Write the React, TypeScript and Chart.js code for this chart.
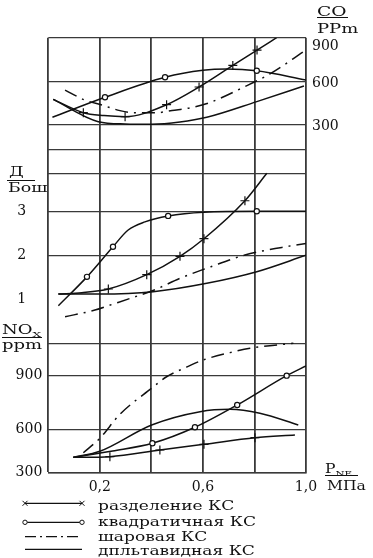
import React, { useEffect, useRef } from 'react';
import { Chart, registerables, LinearScale } from 'chart.js';

Chart.register(...registerables);

const FONT = "'DejaVu Serif', 'Liberation Serif', serif";
const INK = '#111';
const GRID = '#3a3a3a';

// X axis: P_NE, MPa
const X_GRID = [0, 0.2, 0.4, 0.6, 0.8, 1.0];
const X_LABELED = [0.2, 0.6, 1.0];

// Y axes (three stacked panels sharing one grid)
const CO_TICKS = [300, 600, 900];
const D_TICKS = [1, 2, 3];
const D_GRID = [0, 2, 3, 3.86, 4.41];
const NOX_TICKS = [300, 600, 900];

// The NOx axis of the source figure is not uniform: value -> fraction of plot height
const NOX_AXIS_VALUES = [300, 600, 900, 2775];
const NOX_AXIS_FRACTIONS = [0, 0.0998, 0.2239, 1];

// ---- CO, ppm ----
const CO_SEP_X = [0.019, 0.136, 0.216, 0.298, 0.459, 0.585, 0.716, 0.81, 0.886];
const CO_SEP_Y = [475, 383, 363, 355, 438, 560, 709, 815, 900];
const CO_SEP_MARKS = [1, 3, 4, 5, 6, 7];

const CO_QUAD_X = [0.016, 0.22, 0.453, 0.6, 0.692, 0.809, 1.0];
const CO_QUAD_Y = [351, 489, 627, 675, 684, 672, 608];
const CO_QUAD_MARKS = [1, 2, 5];

const CO_BALL_X = [0.065, 0.142, 0.208, 0.278, 0.329, 0.421, 0.48, 0.556, 0.627, 0.756, 0.86, 0.99];
const CO_BALL_Y = [539, 470, 436, 397, 383, 383, 398, 418, 453, 557, 650, 803];

const CO_DELTA_X = [0.019, 0.194, 0.298, 0.401, 0.511, 0.615, 0.809, 0.992];
const CO_DELTA_Y = [475, 321, 305, 303, 318, 351, 459, 567];

// ---- Д, Bosch units ----
const D_SEP_X = [0.039, 0.13, 0.233, 0.382, 0.511, 0.604, 0.763, 0.848];
const D_SEP_Y = [1.12, 1.15, 1.234, 1.56, 1.977, 2.377, 3.24, 3.864];
const D_SEP_MARKS = [2, 3, 4, 5, 6];

const D_QUAD_X = [0.039, 0.15, 0.251, 0.31, 0.375, 0.465, 0.604, 0.809, 1.0];
const D_QUAD_Y = [0.855, 1.51, 2.195, 2.575, 2.76, 2.895, 2.98, 3.0, 3.0];
const D_QUAD_MARKS = [1, 2, 5, 7];

const D_BALL_X = [0.065, 0.181, 0.252, 0.317, 0.414, 0.511, 0.631, 0.763, 0.906, 1.0];
const D_BALL_Y = [0.605, 0.755, 0.893, 1.02, 1.218, 1.477, 1.741, 2.007, 2.18, 2.27];

const D_DELTA_X = [0.039, 0.2, 0.407, 0.615, 0.809, 1.0];
const D_DELTA_Y = [1.12, 1.12, 1.173, 1.364, 1.627, 2.0];

// ---- NOx, ppm ----
const NOX_SEP_X = [0.097, 0.239, 0.433, 0.604, 0.802, 0.957];
const NOX_SEP_Y = [406, 411, 457, 496, 542, 561];
const NOX_SEP_MARKS = [1, 2, 3, 4];

const NOX_QUAD_X = [0.097, 0.25, 0.404, 0.569, 0.733, 0.925, 1.0];
const NOX_QUAD_Y = [406, 450, 503, 611, 735, 898, 952];
const NOX_QUAD_MARKS = [2, 3, 4, 5];

const NOX_BALL_X = [0.136, 0.2, 0.279, 0.401, 0.459, 0.53, 0.601, 0.705, 0.783, 0.951];
const NOX_BALL_Y = [438, 538, 685, 828, 892, 941, 985, 1026, 1050, 1078];

const NOX_DELTA_X = [0.097, 0.2, 0.401, 0.589, 0.705, 0.821, 0.97];
const NOX_DELTA_Y = [406, 448, 624, 698, 711, 689, 624];

const LEGEND_SEP = 'разделение КС';
const LEGEND_QUAD = 'квадратичная КС';
const LEGEND_BALL = 'шаровая КС';
const LEGEND_DELTA = 'дпльтавидная КС';

class PiecewiseScale extends LinearScale {
  static id = 'piecewise';
  getPixelForValue(value: number) {
    if (value === null || value === undefined || isNaN(value)) return NaN;
    const vs = NOX_AXIS_VALUES;
    const fs = NOX_AXIS_FRACTIONS;
    let i = 1;
    while (i < vs.length - 1 && value > vs[i]) i++;
    const t = fs[i - 1] + ((value - vs[i - 1]) / (vs[i] - vs[i - 1])) * (fs[i] - fs[i - 1]);
    return this.getPixelForDecimal(t);
  }
  getValueForPixel(pixel: number) {
    const t = this.getDecimalForPixel(pixel);
    const vs = NOX_AXIS_VALUES;
    const fs = NOX_AXIS_FRACTIONS;
    let i = 1;
    while (i < fs.length - 1 && t > fs[i]) i++;
    return vs[i - 1] + ((t - fs[i - 1]) / (fs[i] - fs[i - 1])) * (vs[i] - vs[i - 1]);
  }
}
Chart.register(PiecewiseScale as any);

type Kind = 'sep' | 'quad' | 'ball' | 'delta';

function makeSet(xs: number[], ys: number[], axis: string, kind: Kind, marks: number[] = []) {
  const data = xs.map((x, i) => ({ x, y: ys[i] }));
  const base: any = {
    data,
    yAxisID: axis,
    xAxisID: 'x',
    borderColor: INK,
    borderWidth: 1.5,
    fill: false,
    cubicInterpolationMode: 'monotone',
    pointBorderColor: INK,
    pointBackgroundColor: '#fff',
    pointBorderWidth: 1.2,
    pointRadius: 0,
  };
  if (kind === 'ball') base.borderDash = [13, 6, 2, 6];
  if (kind === 'sep') {
    base.pointStyle = 'cross';
    base.pointRadius = (ctx: any) => (marks.includes(ctx.dataIndex) ? 4.5 : 0);
  }
  if (kind === 'quad') {
    base.pointStyle = 'circle';
    base.pointRadius = (ctx: any) => (marks.includes(ctx.dataIndex) ? 2.6 : 0);
  }
  return base;
}

function T(props: { x: number; y: number; size?: number; sx?: number; children: any }) {
  const { x, y, size = 12, sx = 1.45, children } = props;
  return (
    <div
      style={{
        position: 'absolute',
        left: x,
        top: y,
        fontFamily: FONT,
        fontSize: size,
        lineHeight: 1,
        whiteSpace: 'nowrap',
        transform: `scaleX(${sx})`,
        transformOrigin: 'left top',
        color: INK,
      }}
    >
      {children}
    </div>
  );
}

function Bar(props: { x: number; y: number; w: number }) {
  return (
    <div style={{ position: 'absolute', left: props.x, top: props.y, width: props.w, height: 1, background: INK }} />
  );
}

export default function App() {
  const ref = useRef<HTMLCanvasElement>(null);

  useEffect(() => {
    if (!ref.current) return;
    const tickFont = { family: FONT, size: 14 };
    const chart = new Chart(ref.current, {
      type: 'line',
      data: {
        datasets: [
          makeSet(CO_SEP_X, CO_SEP_Y, 'yCO', 'sep', CO_SEP_MARKS),
          makeSet(CO_QUAD_X, CO_QUAD_Y, 'yCO', 'quad', CO_QUAD_MARKS),
          makeSet(CO_BALL_X, CO_BALL_Y, 'yCO', 'ball'),
          makeSet(CO_DELTA_X, CO_DELTA_Y, 'yCO', 'delta'),
          makeSet(D_SEP_X, D_SEP_Y, 'yD', 'sep', D_SEP_MARKS),
          makeSet(D_QUAD_X, D_QUAD_Y, 'yD', 'quad', D_QUAD_MARKS),
          makeSet(D_BALL_X, D_BALL_Y, 'yD', 'ball'),
          makeSet(D_DELTA_X, D_DELTA_Y, 'yD', 'delta'),
          makeSet(NOX_SEP_X, NOX_SEP_Y, 'yNOx', 'sep', NOX_SEP_MARKS),
          makeSet(NOX_QUAD_X, NOX_QUAD_Y, 'yNOx', 'quad', NOX_QUAD_MARKS),
          makeSet(NOX_BALL_X, NOX_BALL_Y, 'yNOx', 'ball'),
          makeSet(NOX_DELTA_X, NOX_DELTA_Y, 'yNOx', 'delta'),
        ],
      },
      options: {
        responsive: false,
        animation: false,
        devicePixelRatio: 1,
        events: [],
        layout: { padding: { top: 37.7, left: 0, right: 0, bottom: 0 } },
        plugins: { legend: { display: false }, tooltip: { enabled: false } },
        scales: {
          x: {
            type: 'linear',
            min: 0,
            max: 1,
            position: 'bottom',
            afterBuildTicks: (s: any) => {
              s.ticks = X_GRID.map((v) => ({ value: v }));
            },
            afterFit: (s: any) => {
              s.height = 27.3;
            },
            ticks: {
              autoSkip: false,
              maxRotation: 0,
              padding: 6,
              color: INK,
              font: tickFont,
              callback: (v: any) => (X_LABELED.includes(v) ? Number(v).toFixed(1).replace('.', ',') : ''),
            },
            grid: { color: GRID, lineWidth: 1.8, drawTicks: false },
            border: { display: true, color: GRID, width: 1.4 },
          },
          yCO: {
            type: 'linear',
            position: 'right',
            min: -2100,
            max: 900,
            afterBuildTicks: (s: any) => {
              s.ticks = CO_TICKS.map((v) => ({ value: v }));
            },
            afterFit: (s: any) => {
              s.width = 67;
            },
            ticks: {
              padding: 6,
              labelOffset: 2,
              color: INK,
              font: { family: FONT, size: 14, lineHeight: 1 },
              // the top label sits just below the frame in the source figure
              callback: (v: any) => (v === CO_TICKS[CO_TICKS.length - 1] ? ['', String(v)] : String(v)),
            },
            grid: { color: GRID, lineWidth: 1.3, drawTicks: false },
            border: { display: false },
          },
          yD: {
            type: 'linear',
            position: 'left',
            weight: 1,
            min: -2.94,
            max: 6.945,
            afterBuildTicks: (s: any) => {
              const vals = [...D_GRID, ...D_TICKS].filter((v, i, a) => a.indexOf(v) === i).sort((a, b) => a - b);
              s.ticks = vals.map((v) => ({ value: v }));
            },
            afterFit: (s: any) => {
              s.width = 0;
            },
            ticks: {
              mirror: true,
              padding: -31,
              autoSkip: false,
              color: INK,
              font: tickFont,
              callback: (v: any) => (D_TICKS.includes(v) ? String(v) : ''),
            },
            grid: {
              color: (ctx: any) => (ctx.tick && D_GRID.includes(ctx.tick.value) ? GRID : 'rgba(0,0,0,0)'),
              lineWidth: 1.3,
              drawTicks: false,
            },
            border: { display: false },
          },
          yNOx: {
            type: 'piecewise' as any,
            position: 'left',
            weight: 2,
            min: 300,
            max: 2775,
            afterBuildTicks: (s: any) => {
              s.ticks = NOX_TICKS.map((v) => ({ value: v }));
            },
            afterFit: (s: any) => {
              s.width = 48.3;
            },
            ticks: { padding: 6, color: INK, font: tickFont, callback: (v: any) => String(v) },
            grid: { color: GRID, lineWidth: 1.3, drawTicks: false },
            border: { display: false },
          },
        } as any,
      },
    } as any);
    return () => chart.destroy();
  }, []);

  return (
    <div
      style={{
        position: 'absolute',
        left: 0,
        top: 0,
        width: 373,
        height: 558,
        background: '#fff',
        overflow: 'hidden',
      }}
    >
      <canvas ref={ref} width={373} height={500} style={{ position: 'absolute', left: 0, top: 0 }} />

      <T x={317} y={6} sx={1.55}>CO</T>
      <Bar x={317} y={16.5} w={31} />
      <T x={317} y={23} sx={1.5}>PPm</T>

      <T x={9} y={165} size={13} sx={1.4}>Д</T>
      <Bar x={7} y={179.5} w={28} />
      <T x={8} y={182} sx={1.45}>Бош</T>

      <T x={2} y={324} sx={1.5}>
        NO<span style={{ fontSize: 8, position: 'relative', top: 3 }}>X</span>
      </T>
      <Bar x={2} y={336.5} w={40} />
      <T x={2} y={339} sx={1.5}>ppm</T>

      <T x={325} y={463} sx={1.3}>
        P<span style={{ fontSize: 8, position: 'relative', top: 3 }}>NE</span>
      </T>
      <Bar x={325} y={475} w={33} />
      <T x={327} y={480} sx={1.3}>МПа</T>

      <svg width={100} height={68} style={{ position: 'absolute', left: 0, top: 490 }}>
        <line x1={25} y1={13.3} x2={82} y2={13.3} stroke={INK} strokeWidth={1.2} />
        <path d="M22.5 10.8 L27.5 15.8 M27.5 10.8 L22.5 15.8 M79.5 10.8 L84.5 15.8 M84.5 10.8 L79.5 15.8" stroke={INK} strokeWidth={1} />
        <line x1={25} y1={32.3} x2={82} y2={32.3} stroke={INK} strokeWidth={1.2} />
        <circle cx={25} cy={32.3} r={2.2} fill="#fff" stroke={INK} strokeWidth={1} />
        <circle cx={82} cy={32.3} r={2.2} fill="#fff" stroke={INK} strokeWidth={1} />
        <line x1={25} y1={46.7} x2={82} y2={46.7} stroke={INK} strokeWidth={1.2} strokeDasharray="11 4 2 4" />
        <line x1={25} y1={59.3} x2={82} y2={59.3} stroke={INK} strokeWidth={1.2} />
      </svg>
      <T x={97.5} y={500} sx={1.42}>{LEGEND_SEP}</T>
      <T x={97.5} y={516} sx={1.42}>{LEGEND_QUAD}</T>
      <T x={97.5} y={531} sx={1.42}>{LEGEND_BALL}</T>
      <T x={97.5} y={545} sx={1.42}>{LEGEND_DELTA}</T>
    </div>
  );
}
